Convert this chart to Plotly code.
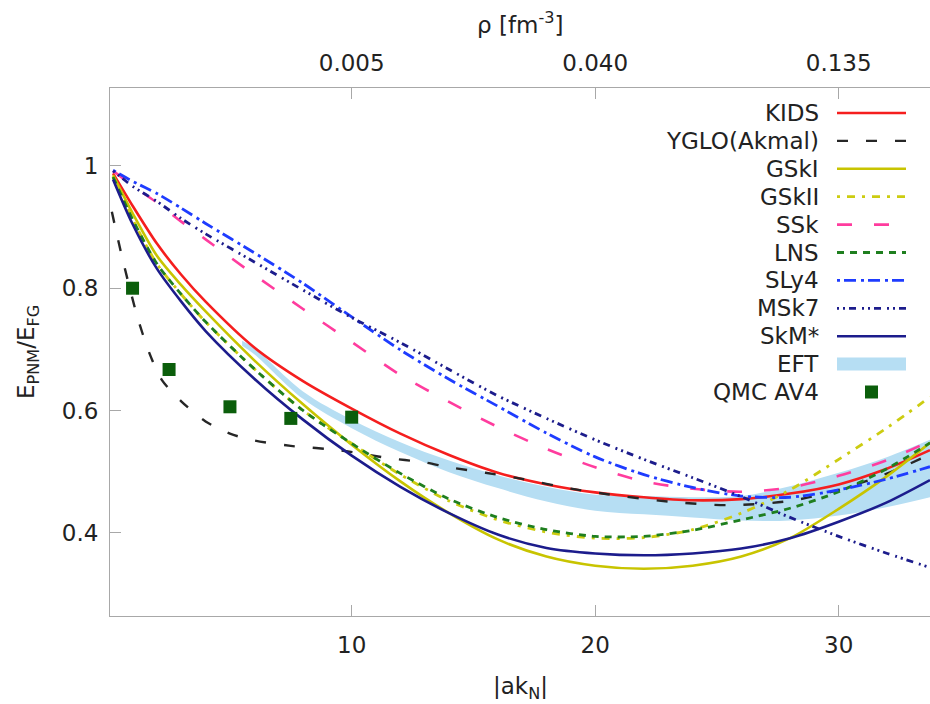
import plotly.graph_objects as go

# ---- data -------------------------------------------------------------
ak = [0.2, 1, 2, 3, 4, 6, 8, 10, 12, 14, 16, 18, 20, 22, 24, 26, 28, 30, 32, 33.75]

kids   = [0.988, 0.935, 0.873, 0.822, 0.778, 0.703, 0.648, 0.603, 0.562, 0.527,
          0.498, 0.479, 0.466, 0.458, 0.453, 0.455, 0.464, 0.479, 0.505, 0.535]
gsk1   = [0.985, 0.923, 0.853, 0.805, 0.762, 0.682, 0.610, 0.544, 0.484, 0.432,
          0.389, 0.361, 0.346, 0.341, 0.346, 0.361, 0.391, 0.439, 0.493, 0.547]
gsk2   = [0.982, 0.913, 0.840, 0.790, 0.745, 0.668, 0.600, 0.546, 0.495, 0.452,
          0.421, 0.401, 0.391, 0.392, 0.405, 0.432, 0.470, 0.520, 0.572, 0.622]
ssk    = [0.992, 0.968, 0.940, 0.909, 0.880, 0.822, 0.766, 0.712, 0.658, 0.614,
          0.573, 0.537, 0.507, 0.484, 0.472, 0.467, 0.474, 0.493, 0.519, 0.550]
lns    = [0.982, 0.913, 0.840, 0.790, 0.745, 0.668, 0.600, 0.546, 0.497, 0.455,
          0.425, 0.405, 0.394, 0.394, 0.404, 0.421, 0.440, 0.467, 0.505, 0.547]
sly4   = [0.993, 0.975, 0.955, 0.931, 0.906, 0.858, 0.808, 0.753, 0.699, 0.651,
          0.607, 0.563, 0.524, 0.495, 0.474, 0.460, 0.458, 0.470, 0.488, 0.508]
msk7   = [0.992, 0.967, 0.942, 0.914, 0.889, 0.843, 0.797, 0.752, 0.711, 0.667,
          0.624, 0.587, 0.552, 0.520, 0.490, 0.459, 0.425, 0.394, 0.366, 0.343]
skms   = [0.978, 0.905, 0.832, 0.778, 0.730, 0.652, 0.585, 0.526, 0.475, 0.432,
          0.397, 0.375, 0.366, 0.363, 0.366, 0.374, 0.391, 0.418, 0.450, 0.486]

ak_yglo = [0.15, 0.6, 1.2, 1.7, 2.2, 3, 4, 5, 6, 7.5, 9.5, 11.5, 13, 14, 15.5,
           17, 19, 20.5, 23, 25.5, 28, 30, 32, 33.75]
yglo    = [0.925, 0.846, 0.753, 0.693, 0.650, 0.615, 0.582, 0.562, 0.551, 0.542,
           0.535, 0.522, 0.515, 0.507, 0.498, 0.488, 0.472, 0.463, 0.451, 0.445,
           0.452, 0.470, 0.497, 0.528]

ak_eft  = [5.5, 6, 8, 10, 12, 14, 16, 18, 20, 22, 24, 26, 28, 30, 32, 33.75]
eft_lo  = [0.706, 0.692, 0.619, 0.571, 0.532, 0.499, 0.473, 0.451, 0.436, 0.430,
           0.425, 0.420, 0.420, 0.428, 0.442, 0.458]
eft_hi  = [0.714, 0.702, 0.631, 0.585, 0.548, 0.518, 0.494, 0.475, 0.462, 0.460,
           0.458, 0.460, 0.476, 0.498, 0.524, 0.552]

ak_qmc  = [1, 2.5, 5, 7.5, 10]
qmc     = [0.800, 0.667, 0.606, 0.587, 0.589]

x_ticks   = [10, 20, 30]
rho_ticks = ["0.005", "0.040", "0.135"]
y_ticks   = [0.4, 0.6, 0.8, 1]
y_labels  = ["0.4", "0.6", "0.8", "1"]

# name, y-values, colour, dash pattern, width
models = [
    ("KIDS",        kids, "#f51e1e", "solid",                       2.6),
    ("YGLO(Akmal)", yglo, "#262626", "11px,18px",                   2.4),
    ("GSkI",        gsk1, "#c8c400", "solid",                       2.6),
    ("GSkII",       gsk2, "#cccc10", "3px,7px,8px,7px",             2.8),
    ("SSk",         ssk,  "#ff3c9e", "15px,22px",                   2.6),
    ("LNS",         lns,  "#1f7f1f", "7px,6px",                     2.8),
    ("SLy4",        sly4, "#1e3cff", "3px,4px,12px,5px",            2.8),
    ("MSk7",        msk7, "#1c1c8c", "2px,4px,2px,4px,7px,6px",     2.8),
    ("SkM*",        skms, "#1c1c8c", "solid",                       2.6),
]

FONT = "DejaVu Sans"
AX = "#a8a8a8"
EFT_COL = "#b6def3"
QMC_COL = "#0b5e0b"

fig = go.Figure()

# EFT band
fig.add_trace(go.Scatter(x=ak_eft, y=eft_lo, mode="lines", line=dict(width=0, shape="spline"),
                         showlegend=False, hoverinfo="skip"))
fig.add_trace(go.Scatter(x=ak_eft, y=eft_hi, mode="lines", line=dict(width=0, shape="spline"),
                         fill="tonexty", fillcolor=EFT_COL, name="EFT", showlegend=False))

for name, ys, col, dash, w in models:
    xs = ak_yglo if name == "YGLO(Akmal)" else ak
    fig.add_trace(go.Scatter(x=xs, y=ys, mode="lines", name=name, showlegend=False,
                             line=dict(color=col, dash=dash, width=w, shape="spline", smoothing=0.8)))

fig.add_trace(go.Scatter(x=ak_qmc, y=qmc, mode="markers", name="QMC AV4", showlegend=False,
                         marker=dict(symbol="square", size=13, color=QMC_COL)))

# density scale on the top axis
fig.add_trace(go.Scatter(x=[], y=[], xaxis="x2", showlegend=False, hoverinfo="skip"))

XR = [0.074, 33.75]
YR = [0.2637, 1.1276]

fig.update_layout(
    width=930, height=704,
    margin=dict(l=110, r=0, t=88, b=88),
    paper_bgcolor="white", plot_bgcolor="white",
    font=dict(family=FONT, size=23, color="#222222"),
    xaxis=dict(range=XR, tickvals=x_ticks, ticks="inside", ticklen=11, tickcolor=AX,
               showline=True, linecolor=AX, linewidth=1, showgrid=False, zeroline=False,
               ticklabelstandoff=8),
    xaxis2=dict(range=XR, overlaying="x", side="top", tickvals=x_ticks, ticktext=rho_ticks,
                ticks="inside", ticklen=11, tickcolor=AX, showline=True, linecolor=AX,
                linewidth=1, showgrid=False, zeroline=False, ticklabelstandoff=7),
    yaxis=dict(range=YR, tickvals=y_ticks, ticktext=y_labels, ticks="inside", ticklen=11,
               tickcolor=AX, showline=True, linecolor=AX, linewidth=1, showgrid=False,
               zeroline=False, ticklabelstandoff=6),
)

# axis titles
fig.add_annotation(text="|ak<sub>N</sub>|", xref="paper", yref="paper", x=0.5, y=-0.136,
                   showarrow=False, xanchor="center", yanchor="middle")
fig.add_annotation(text="ρ [fm<sup>-3</sup>]", xref="paper", yref="paper", x=0.5, y=1.123,
                   showarrow=False, xanchor="center", yanchor="middle")
fig.add_annotation(text="E<sub>PNM</sub>/E<sub>FG</sub>", xref="paper", yref="paper",
                   x=-0.1, y=0.5, textangle=-90, showarrow=False,
                   xanchor="center", yanchor="middle")

# key, drawn with the sample to the right of each label
PW, PH = 820.0, 528.0
text_right = (821 - 110) / PW
s0, s1 = (837 - 110) / PW, (906 - 110) / PW
row0, step = 113, 27.9
entries = [(m[0], m[2], m[3], m[4]) for m in models] + [("EFT", EFT_COL, "band", 0),
                                                       ("QMC AV4", QMC_COL, "square", 0)]
for i, (name, col, dash, w) in enumerate(entries):
    py = row0 + i * step
    yp = (616 - py) / PH
    fig.add_annotation(text=name, xref="paper", yref="paper", x=text_right, y=yp,
                       xanchor="right", yanchor="middle", showarrow=False)
    if dash == "band":
        fig.add_shape(type="rect", xref="paper", yref="paper", x0=s0, x1=s1,
                      y0=yp - 6.5 / PH, y1=yp + 6.5 / PH, fillcolor=col, line=dict(width=0))
    elif dash == "square":
        cx = (s0 + s1) / 2
        fig.add_shape(type="rect", xref="paper", yref="paper", x0=cx - 6.5 / PW, x1=cx + 6.5 / PW,
                      y0=yp - 6.5 / PH, y1=yp + 6.5 / PH, fillcolor=col, line=dict(width=0))
    else:
        fig.add_shape(type="line", xref="paper", yref="paper", x0=s0, x1=s1, y0=yp, y1=yp,
                      line=dict(color=col, dash=dash, width=w))

fig.write_html("out.html")
